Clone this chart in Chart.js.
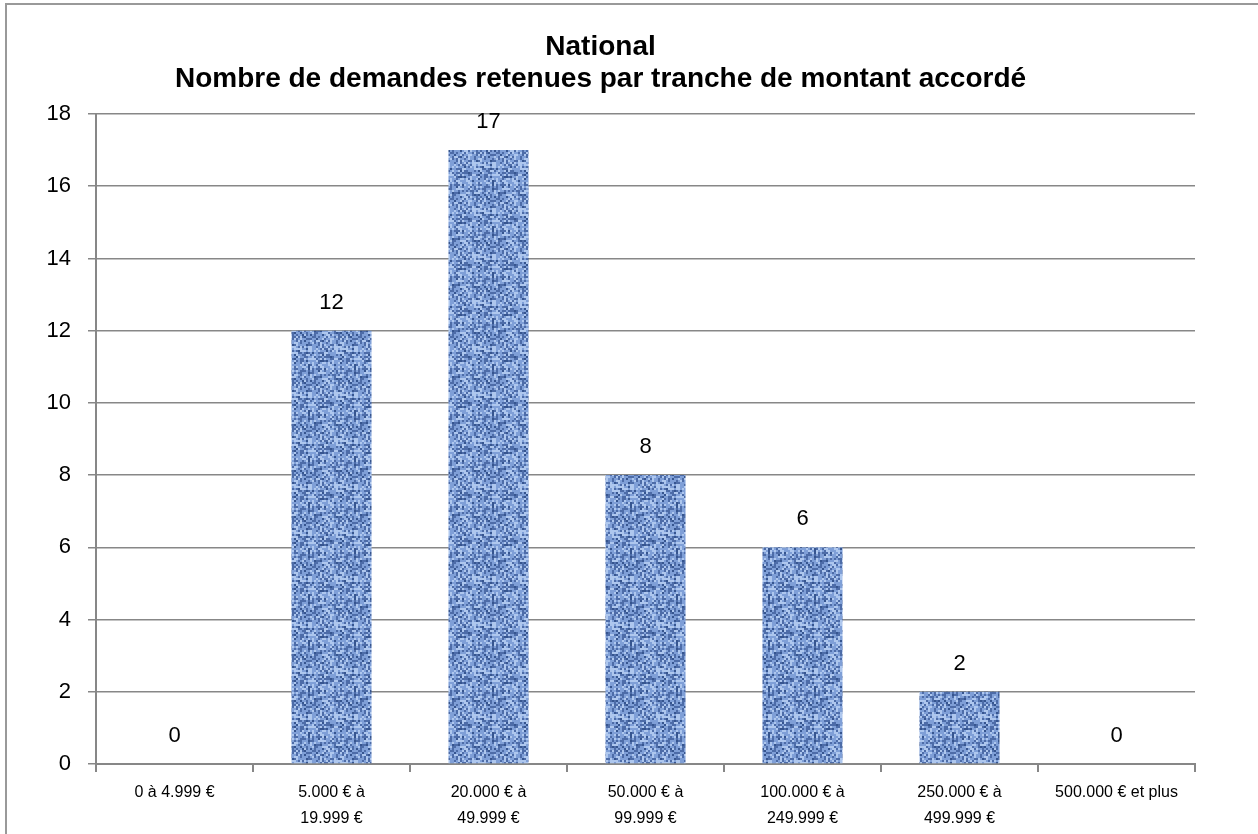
<!DOCTYPE html>
<html>
<head>
<meta charset="utf-8">
<script src="https://cdn.jsdelivr.net/npm/chart.js@4/dist/chart.umd.min.js"></script>
<style>
  html, body { margin: 0; padding: 0; background: #fff; overflow: hidden; }
  #wrap { position: relative; width: 1258px; height: 834px; }
  #frame {
    position: absolute; left: 5px; top: 3px; width: 1400px; height: 1000px;
    border-left: 2px solid #999; border-top: 2px solid #999; pointer-events: none;
  }
</style>
</head>
<body>
<div id="wrap">
  <canvas id="myChart" width="1258" height="834"></canvas>
  <div id="frame"></div>
</div>
<script>
const titleLines = ["National", "Nombre de demandes retenues par tranche de montant accordé"];
const categories = [
  ["0 à 4.999 €"],
  ["5.000 € à", "19.999 €"],
  ["20.000 € à", "49.999 €"],
  ["50.000 € à", "99.999 €"],
  ["100.000 € à", "249.999 €"],
  ["250.000 € à", "499.999 €"],
  ["500.000 € et plus"],
];
const values = [0, 12, 17, 8, 6, 2, 0];
const yTicks = [0, 2, 4, 6, 8, 10, 12, 14, 16, 18];

const FONT = "'Liberation Sans', Arial, sans-serif";

// tissu bleu (texture des barres)
function makeDenim() {
  const c = document.createElement("canvas");
  const cells = 23, cell = 2;
  c.width = cells * cell;
  c.height = cells * cell;
  const g = c.getContext("2d");
  const dark = "#4d6ca8", mid = "#7f9fd7", light = "#aec7ee", deep = "#36558f";
  for (let cy = 0; cy < cells; cy++) {
    for (let cx = 0; cx < cells; cx++) {
      let h = Math.sin(cx * 12.9898 + cy * 78.233) * 43758.5453;
      h = h - Math.floor(h);
      let k = Math.sin(cx * 3.17 + cy * 0.71) * 9621.13;
      k = k - Math.floor(k);
      let col = mid;
      if (k > 0.62 && h > 0.4) col = h > 0.85 ? deep : dark;
      else if (k < 0.3 && h < 0.55) col = light;
      else if (h > 0.9) col = dark;
      else if (h < 0.12) col = light;
      g.fillStyle = col;
      g.fillRect(cx * cell, cy * cell, cell, cell);
    }
  }
  return g.createPattern(c, "repeat");
}

const valueLabels = {
  id: "valueLabels",
  afterDatasetsDraw(chart) {
    const ctx = chart.ctx;
    const meta = chart.getDatasetMeta(0);
    ctx.save();
    ctx.font = "22px " + FONT;
    ctx.fillStyle = "#000";
    ctx.textAlign = "center";
    ctx.textBaseline = "middle";
    meta.data.forEach((bar, i) => {
      ctx.fillText(String(values[i]), bar.x, bar.y - 28);
    });
    ctx.restore();
  },
};

const ctx = document.getElementById("myChart").getContext("2d");
const myChart = new Chart(ctx, {
  type: "bar",
  data: {
    labels: categories,
    datasets: [
      {
        data: values,
        backgroundColor: makeDenim(),
        borderWidth: 0,
        barPercentage: 0.51,
        categoryPercentage: 1,
      },
    ],
  },
  plugins: [valueLabels],
  options: {
    responsive: false,
    animation: false,
    layout: { padding: { left: 6, right: 63, top: 0, bottom: 0 } },
    plugins: {
      legend: { display: false },
      tooltip: { enabled: false },
      title: {
        display: true,
        text: titleLines,
        color: "#000",
        font: { family: FONT, size: 28, weight: "bold", lineHeight: 1.15 },
        padding: { top: 31, bottom: 18.6 },
      },
    },
    scales: {
      x: {
        grid: {
          offset: true,
          drawOnChartArea: false,
          drawTicks: true,
          tickLength: 8,
          color: "#878787",
          lineWidth: 2,
        },
        border: { display: true, color: "#878787", width: 2 },
        ticks: {
          color: "#000",
          font: { family: FONT, size: 16, lineHeight: 1.6 },
          maxRotation: 0,
          autoSkip: false,
          padding: 8,
        },
        afterFit(scale) { scale.height = 70; },
      },
      y: {
        min: 0,
        max: 18,
        afterBuildTicks(scale) { scale.ticks = yTicks.map((v) => ({ value: v })); },
        grid: { color: "#878787", lineWidth: 1.5, tickLength: 8 },
        border: { display: true, color: "#878787", width: 2 },
        ticks: {
          color: "#000",
          font: { family: FONT, size: 22 },
          padding: 17,
        },
        afterFit(scale) { scale.width = 90; },
      },
    },
  },
});
</script>
</body>
</html>
